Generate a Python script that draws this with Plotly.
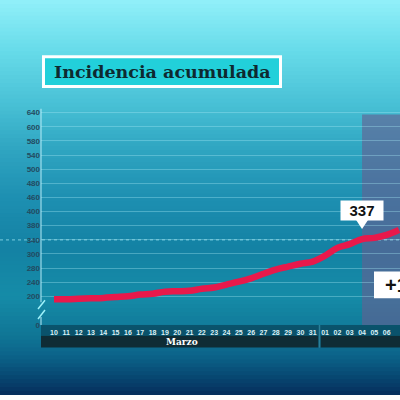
import plotly.graph_objects as go

# ---- data ----
dates = ["10", "11", "12", "13", "14", "15", "16", "17", "18", "19", "20", "21",
         "22", "23", "24", "25", "26", "27", "28", "29", "30", "31",
         "01", "02", "03", "04", "05", "06", "07"]
incidence = [193, 193, 194, 195, 196, 198, 200, 204, 206, 211, 212, 213,
             218, 221, 228, 235, 243, 254, 264, 271, 278, 283,
             297, 316, 325, 337, 340, 347, 359]
ytick_labels = ["200", "240", "280", "300", "340", "380", "400", "460",
                "480", "500", "540", "580", "600", "640"]
month_label = "Marzo"
title_text = "Incidencia acumulada"
highlight_date = "04"
change_text = "+1 %"

W = H = 400
def X(p): return p / W
def Y(p): return 1 - p / H

xs = list(range(len(dates)))
hi = dates.index(highlight_date)

# y grid: labels are evenly spaced from 200 to 640
step = (640 - 200) / (len(ytick_labels) - 1)
grid_vals = [200 + k * step for k in range(len(ytick_labels))]
y_low = 200 - 29 / 14.3 * step

shapes = []
# background gradient
stops = [(0, (146, 240, 250)), (50, (104, 220, 234)), (100, (76, 196, 216)),
         (150, (48, 166, 194)), (200, (30, 144, 178)), (250, (20, 130, 164)),
         (300, (22, 140, 168)), (340, (16, 118, 150)), (360, (12, 100, 138)),
         (380, (8, 74, 116)), (400, (6, 46, 92))]
def col(y):
    for (y0, c0), (y1, c1) in zip(stops, stops[1:]):
        if y0 <= y <= y1:
            t = (y - y0) / (y1 - y0)
            return "rgb(%d,%d,%d)" % tuple(int(a + (b - a) * t) for a, b in zip(c0, c1))
    return "rgb(6,46,92)"
n = 100
for i in range(n):
    y0 = i * H / n
    y1 = min(H, (i + 1) * H / n + 2)
    shapes.append(dict(type="rect", xref="paper", yref="paper", x0=0, x1=1,
                       y0=Y(y1), y1=Y(y0), fillcolor=col(y0 + H / n / 2),
                       line=dict(width=0), layer="below"))
# highlighted period
shapes.append(dict(type="rect", xref="x", yref="paper", x0=hi, x1=len(dates) + 2,
                   y0=Y(329), y1=Y(116), fillcolor="rgba(102,96,146,0.62)",
                   line=dict(width=0), layer="below"))
# dotted band of particles
shapes.append(dict(type="line", xref="paper", yref="paper", x0=0, x1=1,
                   y0=Y(243), y1=Y(243),
                   line=dict(color="rgba(170,240,250,0.55)", width=1.2, dash="dot"),
                   layer="below"))
# date band and month bar
shapes.append(dict(type="rect", xref="paper", yref="paper", x0=X(41), x1=1,
                   y0=Y(340), y1=Y(329), fillcolor="rgba(8,70,92,0.75)",
                   line=dict(width=0), layer="below"))
shapes.append(dict(type="rect", xref="paper", yref="paper", x0=X(41), x1=X(318.5),
                   y0=Y(352), y1=Y(340), fillcolor="#0f2c35", line=dict(width=0),
                   layer="below"))
shapes.append(dict(type="rect", xref="paper", yref="paper", x0=X(320.5), x1=1,
                   y0=Y(352), y1=Y(340), fillcolor="#0f2c35", line=dict(width=0),
                   layer="below"))
shapes.append(dict(type="line", xref="paper", yref="paper", x0=X(319.5), x1=X(319.5),
                   y0=Y(352), y1=Y(329), line=dict(color="#2a7f98", width=1.5),
                   layer="below"))
# y axis line with break
shapes.append(dict(type="line", xref="paper", yref="paper", x0=X(41), x1=X(41),
                   y0=Y(306), y1=Y(110), line=dict(color="rgba(190,240,250,0.8)", width=1.2)))
shapes.append(dict(type="line", xref="paper", yref="paper", x0=X(41), x1=X(41),
                   y0=Y(329), y1=Y(321), line=dict(color="rgba(190,240,250,0.8)", width=1.2)))
for a, b in [(313, 304), (323, 314)]:
    shapes.append(dict(type="line", xref="paper", yref="paper", x0=X(38), x1=X(45),
                       y0=Y(a), y1=Y(b), line=dict(color="#9ef2fa", width=1.5)))
# title box
shapes.append(dict(type="rect", xref="paper", yref="paper", x0=X(42), x1=X(282),
                   y0=Y(89), y1=Y(56), fillcolor="white", line=dict(width=0)))
shapes.append(dict(type="rect", xref="paper", yref="paper", x0=X(45), x1=X(279),
                   y0=Y(86), y1=Y(59), fillcolor="#22d0da", line=dict(width=0)))
# callout pointer
shapes.append(dict(type="path", xref="x", yref="paper",
                   path="M %f,%f L %f,%f L %f,%f Z" % (hi - 0.55, Y(221.5), hi + 0.55, Y(221.5), hi, Y(232)),
                   fillcolor="white", line=dict(width=0)))
# change box
shapes.append(dict(type="rect", xref="paper", yref="paper", x0=X(374), x1=1.05,
                   y0=Y(302), y1=Y(275), fillcolor="white", line=dict(width=0)))

fig = go.Figure()
fig.add_trace(go.Scatter(x=xs, y=incidence, mode="lines",
                         line=dict(color="#e8194b", width=6.5, shape="spline"),
                         hoverinfo="skip", showlegend=False))

annotations = [
    dict(xref="paper", yref="paper", x=X(162), y=Y(72.5), text="<b>%s</b>" % title_text,
         xanchor="center", yanchor="middle",
         showarrow=False, font=dict(family="DejaVu Serif", size=17.5, color="#0e2a30")),
    dict(xref="paper", yref="paper", x=X(182), y=Y(346), text="<b>%s</b>" % month_label,
         xanchor="center", yanchor="middle",
         showarrow=False, font=dict(family="DejaVu Serif", size=9, color="white")),
    dict(xref="x", yref="paper", x=hi, y=Y(213), text="<b>%d</b>" % incidence[hi],
         xanchor="center", yanchor="middle",
         showarrow=False, bgcolor="white", width=40, height=17,
         font=dict(family="Liberation Sans", size=15, color="#111")),
    dict(xref="paper", yref="paper", x=X(383), y=Y(289), xanchor="left", yanchor="middle",
         text="<b>%s</b>" % change_text, showarrow=False, align="left",
         font=dict(family="Liberation Sans", size=20, color="#111")),
]

fig.update_layout(
    width=W, height=H, margin=dict(l=0, r=0, t=0, b=0),
    paper_bgcolor="rgba(0,0,0,0)", plot_bgcolor="rgba(0,0,0,0)",
    shapes=shapes, annotations=annotations, showlegend=False,
    xaxis=dict(domain=[X(41), 1], range=[-1.055, 28.08], tickvals=xs, ticktext=dates,
               showgrid=False, zeroline=False, showline=False, ticks="",
               ticklabelstandoff=2,
               tickfont=dict(family="Liberation Sans", size=7, color="#dcf0f5", weight=700),
               fixedrange=True),
    yaxis=dict(domain=[Y(329), Y(110)], range=[y_low, 200 + (300 - 110) * step / 14.3],
               tickvals=[y_low] + grid_vals, ticktext=["0"] + ytick_labels,
               showgrid=True, gridcolor="rgba(170,235,245,0.35)", gridwidth=1,
               zeroline=False, showline=False, ticks="",
               tickfont=dict(family="Liberation Sans", size=8, color="#234a60", weight=700),
               fixedrange=True),
)
fig.write_html("out.html", config={"displayModeBar": False},
               post_script="document.body.style.margin='0';document.body.style.overflow='hidden';")
